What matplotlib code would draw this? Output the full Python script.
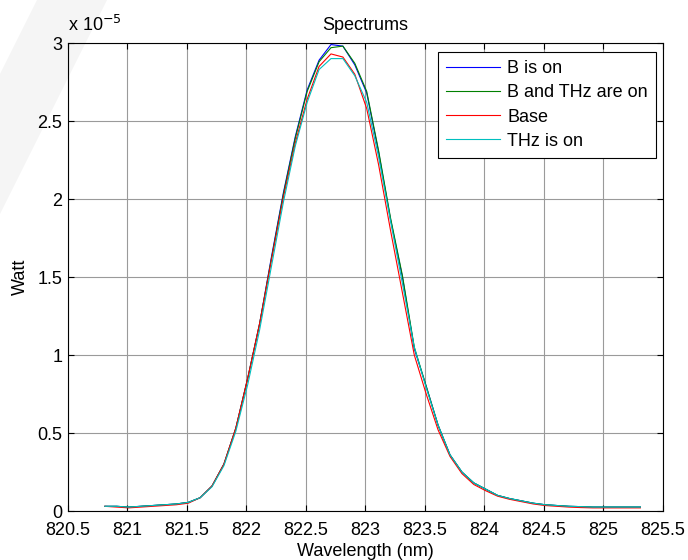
import numpy as np
from matplotlib import pyplot as plt
from matplotlib.patches import Polygon

# wavelength samples (nm)
wavelength = [820.81, 820.91, 821.01, 821.11, 821.21, 821.31, 821.41, 821.51, 821.61, 821.71,
              821.81, 821.91, 822.01, 822.11, 822.21, 822.31, 822.41, 822.51, 822.61, 822.71,
              822.81, 822.91, 823.01, 823.11, 823.21, 823.31, 823.41, 823.51, 823.61, 823.71,
              823.81, 823.91, 824.01, 824.11, 824.21, 824.31, 824.41, 824.51, 824.61, 824.71,
              824.81, 824.91, 825.01, 825.11, 825.21, 825.31]

# power values, in units of 1e-5 W
b_on = [0.030, 0.030, 0.025, 0.030, 0.035, 0.040, 0.045, 0.055, 0.085, 0.160,
        0.300, 0.530, 0.850, 1.200, 1.630, 2.040, 2.400, 2.700, 2.890, 2.990,
        2.980, 2.860, 2.680, 2.300, 1.870, 1.500, 1.040, 0.800, 0.550, 0.360,
        0.250, 0.180, 0.140, 0.100, 0.080, 0.065, 0.050, 0.040, 0.035, 0.030,
        0.028, 0.025, 0.025, 0.025, 0.025, 0.025]
b_thz_on = [0.030, 0.030, 0.025, 0.030, 0.035, 0.040, 0.045, 0.055, 0.085, 0.160,
            0.300, 0.530, 0.850, 1.200, 1.620, 2.030, 2.390, 2.690, 2.880, 2.970,
            2.980, 2.870, 2.690, 2.310, 1.880, 1.510, 1.050, 0.800, 0.550, 0.360,
            0.250, 0.180, 0.140, 0.100, 0.080, 0.065, 0.050, 0.040, 0.035, 0.030,
            0.028, 0.025, 0.025, 0.025, 0.025, 0.025]
base = [0.030, 0.025, 0.020, 0.025, 0.030, 0.035, 0.040, 0.050, 0.085, 0.160,
        0.300, 0.530, 0.850, 1.200, 1.610, 2.010, 2.360, 2.640, 2.850, 2.930,
        2.910, 2.800, 2.580, 2.220, 1.800, 1.400, 1.000, 0.750, 0.520, 0.350,
        0.240, 0.170, 0.130, 0.095, 0.075, 0.060, 0.045, 0.035, 0.030, 0.025,
        0.022, 0.020, 0.020, 0.020, 0.020, 0.020]
thz_on = [0.030, 0.030, 0.025, 0.030, 0.035, 0.040, 0.045, 0.055, 0.085, 0.155,
          0.290, 0.510, 0.810, 1.160, 1.570, 1.980, 2.340, 2.620, 2.830, 2.900,
          2.900, 2.790, 2.620, 2.270, 1.860, 1.460, 1.050, 0.790, 0.550, 0.360,
          0.250, 0.180, 0.140, 0.100, 0.080, 0.065, 0.050, 0.040, 0.035, 0.030,
          0.028, 0.025, 0.025, 0.025, 0.025, 0.025]

series = [("B is on", b_on, "#0000ff"),
          ("B and THz are on", b_thz_on, "#008000"),
          ("Base", base, "#ff0000"),
          ("THz is on", thz_on, "#00bfbf")]

x_ticks = [820.5, 821, 821.5, 822, 822.5, 823, 823.5, 824, 824.5, 825, 825.5]
y_ticks = [0, 0.5, 1, 1.5, 2, 2.5, 3]

plt.rcParams["font.family"] = ["Liberation Sans", "DejaVu Sans"]
FS = 13

W, H = 688, 560
fig = plt.figure(figsize=(W / 100, H / 100), dpi=100)

# faint diagonal watermark band in the top-left corner (pixel coords, top-left origin)
band = [(0, 74), (37, 0), (107, 0), (0, 214)]
fig.patches.append(Polygon([(x / W, 1 - y / H) for x, y in band], closed=True,
                           transform=fig.transFigure, facecolor="#f5f5f5",
                           edgecolor="none", zorder=-10))

ax = fig.add_axes([68 / W, 1 - 511 / H, (663 - 68) / W, (511 - 43) / H])
ax.set_facecolor("none")

for name, vals, col in series:
    ax.plot(wavelength, vals, color=col, linewidth=0.8, label=name)

ax.set_xlim(820.5, 825.5)
ax.set_ylim(0, 3)
ax.set_xticks(x_ticks)
ax.set_xticklabels([f"{t:g}" for t in x_ticks])
ax.set_yticks(y_ticks)
ax.set_yticklabels([f"{t:g}" for t in y_ticks])
ax.tick_params(direction="in", top=True, right=True, length=4, width=0.8,
               labelsize=FS, colors="black")
ax.tick_params(axis="x", pad=8)
ax.tick_params(axis="y", pad=4)
ax.grid(True, color="#9a9a9a", linewidth=0.8)
for sp in ax.spines.values():
    sp.set_linewidth(0.8)

ax.set_title("Spectrums", fontsize=FS, pad=9)
ax.set_xlabel("Wavelength (nm)", fontsize=FS, labelpad=3)
ax.set_ylabel("Watt", fontsize=FS, labelpad=6)
ax.text(0.0, 1.018, r"x 10$^{-5}$", transform=ax.transAxes, fontsize=FS,
        ha="left", va="bottom")

leg = ax.legend(loc="upper right", bbox_to_anchor=((656 - 68) / 595, (511 - 52) / 468),
                borderaxespad=0, fontsize=FS, fancybox=False, framealpha=1,
                edgecolor="black", handlelength=3.0, handletextpad=0.4,
                borderpad=0.45, labelspacing=0.4)
leg.get_frame().set_linewidth(0.8)

fig.savefig("out.png", dpi=100)
